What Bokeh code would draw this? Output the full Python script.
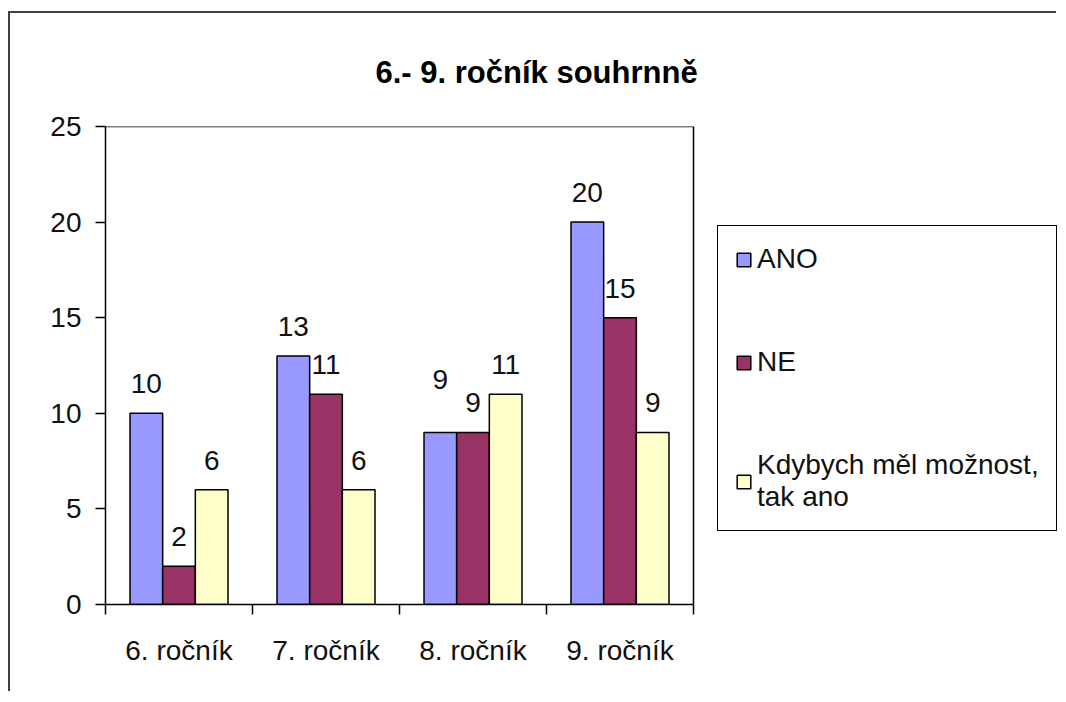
from bokeh.plotting import figure
from bokeh.models import (ColumnDataSource, Range1d, FixedTicker, LabelSet, Legend, LegendItem)
from bokeh.core.properties import value
from bokeh.embed import file_html
from bokeh.resources import INLINE

# ---- data ----
categories = ["6. ročník", "7. ročník", "8. ročník", "9. ročník"]
series_names = ["ANO", "NE", "Kdybych měl možnost,\ntak ano"]
ano = [10, 13, 9, 20]
ne = [2, 11, 9, 15]
kdybych = [6, 6, 11, 9]
y_ticks = [0, 5, 10, 15, 20, 25]
y_max = 25
title_text = "6.- 9. ročník souhrnně"

# ---- style / layout ----
colors = ["#9999FF", "#993366", "#FFFFCC"]
label_nudge = [[0, 0, 23, 0], [0, 0, 0, 0], [0, 0, 0, 0]]
FONT = "Liberation Sans"
FS = "28px"
bar_w = 2.0 / 9.0
W, H = 1048, 680
LEFT, TOP, BOTTOM = 95, 113, 89
plot_area_px = 588          # width of the category area
frame_px = W - LEFT         # frame reaches to right edge (legend lives inside)
n = len(categories)
x_end = n * frame_px / plot_area_px

p = figure(width=W, height=H, output_backend="svg", toolbar_location=None,
           x_range=Range1d(0, x_end), y_range=Range1d(0, y_max),
           min_border_left=LEFT, min_border_right=0, min_border_top=TOP, min_border_bottom=BOTTOM)
p.styles = {"border-top": "2px solid #404040", "border-left": "2px solid #404040",
            "margin-top": "11px", "margin-left": "8px"}
p.background_fill_color = "white"
p.border_fill_color = "white"
p.outline_line_color = None
p.xgrid.visible = False
p.ygrid.visible = False

p.title.text = title_text
p.title.text_font = FONT
p.title.text_font_size = "31px"
p.title.text_font_style = "bold"
p.title.text_color = "black"
p.title.align = "left"
p.title.offset = 270
p.title.standoff = 73

# plot-area border (top and right edges)
p.line(x=[0, n, n], y=[y_max, y_max, 0], line_color="black", line_width=1.5)

renderers = []
for i, vals in enumerate([ano, ne, kdybych]):
    xs = [k + 0.5 + (i - 1) * bar_w for k in range(n)]
    src = ColumnDataSource(dict(x=xs, top=vals, txt=[str(v) for v in vals],
                                off=[20 + d for d in label_nudge[i]]))
    r = p.vbar(x="x", top="top", width=bar_w, source=src, fill_color=colors[i],
               line_color="black", line_width=1.5)
    renderers.append(r)
    p.add_layout(LabelSet(x="x", y="top", text="txt", source=src, y_offset="off",
                          text_align="center", text_baseline="alphabetic",
                          text_font=value(FONT), text_font_size=value(FS),
                          text_color="#111111"))

# y axis
p.yaxis.ticker = FixedTicker(ticks=y_ticks)
p.yaxis.major_tick_out = 10
p.yaxis.major_tick_in = 0
p.yaxis.minor_tick_line_color = None
p.yaxis.axis_line_width = 1.5
p.yaxis.major_tick_line_width = 1.5
p.yaxis.major_label_text_font = FONT
p.yaxis.major_label_text_font_size = FS
p.yaxis.major_label_text_color = "#111111"
p.yaxis.major_label_standoff = 14

# x axis
centers = [k + 0.5 for k in range(n)]
bounds = [k for k in range(n + 1)]
p.xaxis.bounds = (0, n)
p.xaxis.ticker = FixedTicker(ticks=centers, minor_ticks=bounds)
p.xaxis.major_label_overrides = {c: name for c, name in zip(centers, categories)}
p.xaxis.major_tick_line_color = None
p.xaxis.minor_tick_out = 10
p.xaxis.minor_tick_in = 0
p.xaxis.minor_tick_line_color = "black"
p.xaxis.minor_tick_line_width = 1.5
p.xaxis.axis_line_width = 1.5
p.xaxis.major_label_text_font = FONT
p.xaxis.major_label_text_font_size = FS
p.xaxis.major_label_text_color = "#111111"
p.xaxis.major_label_standoff = 20

legend = Legend(items=[LegendItem(label=s, renderers=[r]) for s, r in zip(series_names, renderers)],
                location=(plot_area_px + 24, 73), orientation="vertical")
legend.border_line_color = "black"
legend.border_line_width = 1.5
legend.border_line_alpha = 1
legend.background_fill_color = "white"
legend.background_fill_alpha = 1
legend.padding = 17
legend.spacing = 71
legend.margin = 0
legend.glyph_width = 17
legend.glyph_height = 17
legend.label_standoff = 5
legend.label_height = 30
legend.label_text_font = FONT
legend.label_text_font_size = FS
legend.label_text_color = "#111111"
p.add_layout(legend, "center")

open("out.html", "w").write(file_html(p, INLINE))
